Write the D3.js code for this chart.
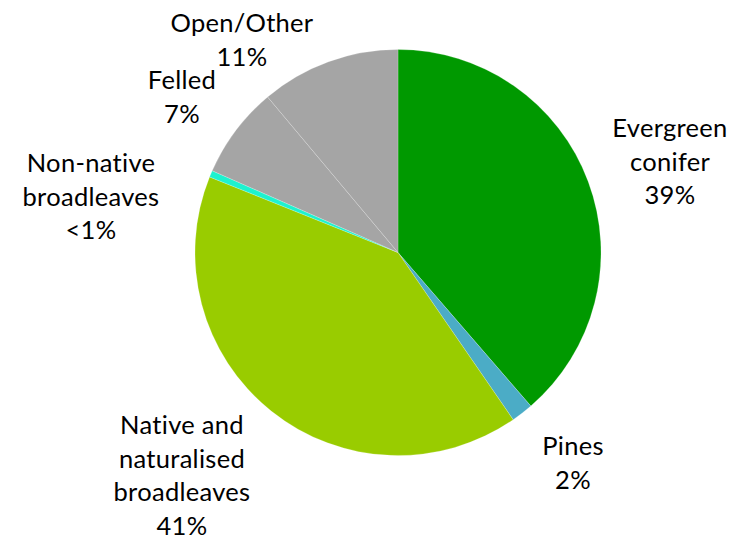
<!DOCTYPE html>
<html>
<head>
<meta charset="utf-8">
<script src="https://cdn.jsdelivr.net/npm/d3@7"></script>
<style>
  html, body { margin: 0; padding: 0; background: #fff; }
  svg { display: block; }
  text { font-family: Lato, "Liberation Sans", sans-serif; fill: #000; }
</style>
</head>
<body>
<svg id="chart" width="729" height="542"></svg>
<script>
// ---- data ----
const categories = ["Evergreen conifer", "Pines", "Native and naturalised broadleaves", "Non-native broadleaves", "Felled", "Open/Other"];
const shares = [38.65, 1.75, 40.67, 0.53, 7.3, 11.1];
const pctLabels = ["39%", "2%", "41%", "<1%", "7%", "11%"];
const labelLines = [
  ["Evergreen", "conifer"],
  ["Pines"],
  ["Native and", "naturalised", "broadleaves"],
  ["Non-native", "broadleaves"],
  ["Felled"],
  ["Open/Other"]
];
const colors = ["#009900", "#4BACC6", "#99CC00", "#1EF2CF", "#A5A5A5", "#A5A5A5"];

// ---- layout (not data) ----
const cx = 398, cy = 252.5, R = 203;
const lineH = 33.5;
// label block: centre x and first baseline y
const labelPos = [
  [670, 137],
  [573, 455],
  [182, 434],
  [91, 172],
  [182, 89],
  [242, 32]
];

const svg = d3.select("#chart");
const g = svg.append("g").attr("transform", `translate(${cx},${cy})`);

const pie = d3.pie().sort(null).value(d => d)(shares);
const arc = d3.arc().innerRadius(0).outerRadius(R);

g.selectAll("path")
  .data(pie)
  .join("path")
  .attr("d", arc)
  .attr("fill", (d, i) => colors[i])
  .attr("stroke", "#ffffff")
  .attr("stroke-opacity", 0.4)
  .attr("stroke-width", 0.5);

const labels = svg.append("g");
categories.forEach((c, i) => {
  const lines = labelLines[i].concat([pctLabels[i]]);
  const t = labels.append("text")
    .attr("text-anchor", "middle")
    .attr("font-size", 25.5)
    .attr("letter-spacing", 0.3);
  lines.forEach((ln, j) => {
    t.append("tspan")
      .attr("x", labelPos[i][0])
      .attr("y", labelPos[i][1] + j * lineH)
      .text(ln);
  });
});
</script>
</body>
</html>
